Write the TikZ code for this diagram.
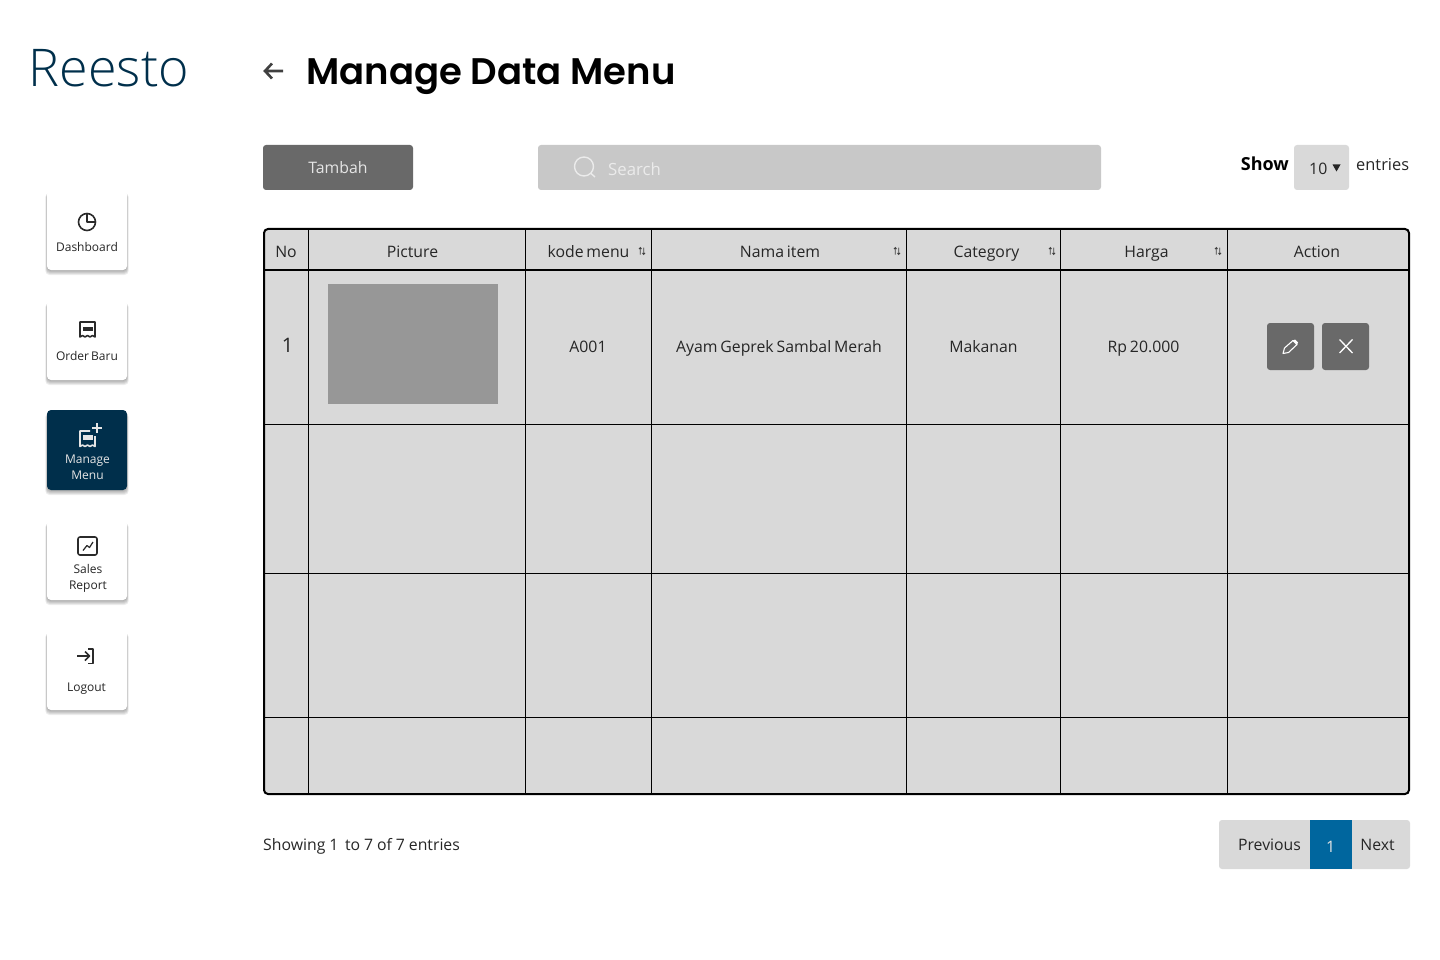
\documentclass[tikz,border=0pt]{standalone}
\usepackage{fontspec}
\setmainfont{Open Sans}[WordSpace=0.7]
\newfontfamily\headfont{Poppins SemiBold}
\newfontfamily\logofont{Open Sans Light}
\definecolor{navy}{HTML}{002F4B}
\definecolor{cellgray}{HTML}{D9D9D9}
\definecolor{btngray}{HTML}{696969}
\definecolor{searchgray}{HTML}{C8C8C8}
\definecolor{picgray}{HTML}{979797}
\definecolor{pageblue}{HTML}{00669E}
\definecolor{inkgray}{HTML}{2B2B2B}
\tikzset{
	txt/.style={font=\fontsize{#1}{#1}\selectfont, inner sep=0pt, text=black!85, text height=.76*#1pt, text depth=0pt},
	txt/.default=15.8,
	navbox/.style={rounded corners=4pt, fill=white},
	navglow/.style={rounded corners=4pt, fill=black, fill opacity=.07},
	navlabel/.style={font=\fontsize{12}{16}\selectfont, inner sep=0pt, align=center, text=black!85},
	icon/.style={draw=inkgray, line width=1.6pt, line join=round},
	grid/.style={line width=1pt, black},
	thickline/.style={line width=2pt, black}
}
\begin{document}
\begin{tikzpicture}[x=1pt, y=-1pt]
	\useasboundingbox (0,0) rectangle (1440,960);
	% heading
	\node[font=\logofont\fontsize{52}{52}\selectfont, text=navy, inner sep=0pt, text height=38pt, text depth=0pt] (logo) at (109,68) {Reesto};
	\coordinate (backtip) at (265,71);
	\coordinate (backend) at (283,71);
	\draw[line width=2.6pt, draw=black!75] (backend) -- (backtip) (272,63.5) -- (backtip) -- (272,78.5);
	\node[font=\headfont\fontsize{37}{37}\selectfont, inner sep=0pt, anchor=west, text height=27pt, text depth=0pt] (title) at (306,71) {Manage Data Menu};
	% sidebar
	\foreach \ypos/\yend in {190/270, 300/380, 410/490, 520/600, 630/710}{
		\foreach \spread in {0,1,2,3,4}{
			\fill[navglow] (47-\spread*.4,\ypos+3) rectangle (127+\spread*.4,\yend+1+\spread);
		}
	}
	\foreach \ypos/\yend in {190/270, 300/380, 520/600, 630/710}{
		\fill[navbox] (47,\ypos) rectangle (127,\yend);
	}
	\fill[navbox, fill=navy] (47,410) rectangle (127,490);
	\node[navlabel] (dashlabel) at (87,247) {Dashboard};
	\node[navlabel] (orderlabel) at (87,356) {Order Baru};
	\node[navlabel, text=white!90!black] (managelabel) at (87.5,467) {Manage\\Menu};
	\node[navlabel] (saleslabel) at (88,578) {Sales\\Report};
	\node[navlabel] (logoutlabel) at (86.5,689) {Logout};
	% icons
	\draw[icon] (87,222) circle[radius=8.5] (87,213.5) -- (87,222) -- (95.5,222);
	\draw[icon] (80,337) -- (80,322) -- (95,322) -- (95,337) -- (92.5,335.5) -- (90,337) -- (87.5,335.5) -- (85,337) -- (82.5,335.5) -- cycle;
	\fill[inkgray] (82.5,327) rectangle (92.5,331);
	\draw[icon, draw=white!90!black] (90,431) -- (80,431) -- (80,446.5) -- (82.5,445) -- (85,446.5) -- (87.5,445) -- (90,446.5) -- (92.5,445) -- (95,446.5) -- (95,436);
	\fill[white!90!black] (82.5,435) rectangle (92.5,439.5);
	\draw[line width=1.6pt, draw=white!90!black] (97,423) -- (97,433) (92,428) -- (102,428);
	\draw[icon, rounded corners=2pt] (78,537) rectangle (97,555);
	\draw[icon, line width=1.2pt] (83,550.5) -- (87,545.5) -- (89.5,547.5) -- (93,542);
	\draw[icon] (77,656) -- (89,656) (85,651.5) -- (89.5,656) -- (85,660.5);
	\draw[icon] (88,649) -- (93,649) -- (93,663.5) -- (88,663.5);
	% toolbar
	\fill[btngray, rounded corners=3pt] (263,145) rectangle (413,190);
	\node[txt, text=white!90!black] (tambah) at (338,167.5) {Tambah};
	\fill[searchgray, rounded corners=3pt] (538,145) rectangle (1101,190);
	\draw[white!92!black, line width=1.4pt] (584,166.5) circle[radius=9.5] (591,173.5) -- (595,177);
	\node[txt=16.8, text=white!92!black, anchor=west] (search) at (608,169) {Search};
	\node[txt=18, anchor=east, text=black] (show) at (1289,164) {\textbf{Show}};
	\fill[cellgray, rounded corners=3pt] (1294,145) rectangle (1349,190);
	\node[txt, anchor=west] (ten) at (1309,168) {10};
	\fill[black!85] (1332.5,164.5) -- (1340.5,164.5) -- (1336.5,171.5) -- cycle;
	\node[txt=16.4, anchor=west] (entries) at (1356,164.5) {entries};
	% table
	\fill[cellgray, rounded corners=4pt] (264,229) rectangle (1409,794);
	\fill[picgray] (328,284) rectangle (498,404);
	\foreach \xpos in {308.5, 525.5, 651.5, 906.5, 1060.5, 1227.5}{
		\draw[grid] (\xpos,229) -- (\xpos,793);
	}
	\foreach \ypos in {424.5, 573.5, 717.5}{
		\draw[grid] (264,\ypos) -- (1409,\ypos);
	}
	\draw[thickline] (264,269.5) -- (1409,269.5);
	\draw[thickline, rounded corners=4pt] (264,229) rectangle (1409,794);
	\foreach \xpos/\label/\name in {
		286/No/colno,
		412.5/Picture/colpic,
		588.5/kode menu/colkode,
		780/Nama item/colnama,
		986.5/Category/colcat,
		1146.5/Harga/colharga,
		1317/Action/colaction
	}{
		\node[txt] (\name) at (\xpos,251.5) {\label};
	}
	\foreach \xpos/\name in {642/sortkode, 897/sortnama, 1052/sortcat, 1218/sortharga}{
		\coordinate (\name) at (\xpos,251);
		\draw[line width=.8pt, draw=black!75] ([xshift=-1.7pt,yshift=-3.5pt]\name) -- ([xshift=-1.7pt,yshift=3.5pt]\name)
			([xshift=-3pt,yshift=2pt]\name) -- ([xshift=-1.7pt,yshift=3.5pt]\name) -- ([xshift=-.4pt,yshift=2pt]\name)
			([xshift=1.7pt,yshift=-3.5pt]\name) -- ([xshift=1.7pt,yshift=3.5pt]\name)
			([xshift=.4pt,yshift=-2pt]\name) -- ([xshift=1.7pt,yshift=-3.5pt]\name) -- ([xshift=3pt,yshift=-2pt]\name);
	}
	\node[txt=20] (rowno) at (287.5,345) {1};
	\foreach \xpos/\label/\name in {
		588/A001/kode,
		779/Ayam Geprek Sambal Merah/nama,
		983.5/Makanan/cat,
		1143.5/Rp 20.000/harga
	}{
		\node[txt] (\name) at (\xpos,346.5) {\label};
	}
	% action buttons
	\fill[btngray, rounded corners=3pt] (1267,323) rectangle (1314,370);
	\fill[btngray, rounded corners=3pt] (1322,323) rectangle (1369,370);
	\draw[white, line width=1.1pt, line join=round] (1283,353.5) -- (1284.5,348) -- (1293,340.5) -- (1297,344.5) -- (1288.5,352.5) -- cycle;
	\fill[white] (1293,340.5) -- (1295,339.5) -- (1298,342.5) -- (1297,344.5) -- cycle;
	\draw[white, line width=1.3pt] (1339.5,339.5) -- (1352.5,353) (1352.5,339.5) -- (1339.5,353);
	% footer
	\node[txt, anchor=west] (showing) at (263,844.5) {\spaceskip=.25em Showing 1\, to 7 of 7 entries};
	\fill[cellgray, rounded corners=3pt] (1219,820) rectangle (1410,869);
	\fill[pageblue] (1310,820) rectangle (1352,869);
	\node[txt] (prev) at (1269.5,844.5) {Previous};
	\node[txt, text=white!90!black] (pagenum) at (1330.5,846.5) {1};
	\node[txt] (next) at (1377.5,844.5) {Next};
\end{tikzpicture}
\end{document}
